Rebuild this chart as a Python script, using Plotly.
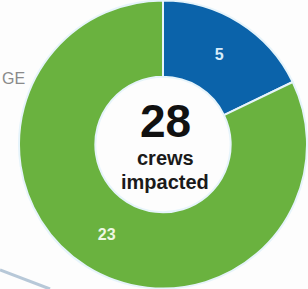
import plotly.graph_objects as go

categories = ["Blue crews", "Green crews"]
values = [5, 23]
slice_colors = ["#0b63aa", "#6ab23f"]
text_colors = ["#d8ecfa", "#eef7e4"]
total_label = "28"
sub_label_1 = "crews"
sub_label_2 = "impacted"
side_label = "GE"

W, H = 308, 289
FONT = "Liberation Sans, Arial, sans-serif"

fig = go.Figure(go.Pie(
    labels=categories,
    values=values,
    hole=0.47,
    sort=False,
    direction="clockwise",
    rotation=0,
    textinfo="value",
    texttemplate="<b>%{value}</b>",
    textposition="inside",
    insidetextorientation="horizontal",
    textfont=dict(family=FONT, size=16, color=text_colors),
    marker=dict(colors=slice_colors, line=dict(color="#e6f4fb", width=2)),
    domain=dict(x=[19 / W, 307 / W], y=[0, 1]),
    showlegend=False,
    hoverinfo="label+value",
))

fig.add_annotation(
    x=165 / W, y=1 - 121 / H, xref="paper", yref="paper",
    text="<b>" + total_label + "</b>", showarrow=False,
    font=dict(family=FONT, size=46, color="#111111"),
)
fig.add_annotation(
    x=165 / W, y=1 - 158 / H, xref="paper", yref="paper",
    text="<b>" + sub_label_1 + "</b>", showarrow=False,
    font=dict(family=FONT, size=20, color="#1a1a1a"),
)
fig.add_annotation(
    x=165 / W, y=1 - 182 / H, xref="paper", yref="paper",
    text="<b>" + sub_label_2 + "</b>", showarrow=False,
    font=dict(family=FONT, size=20, color="#1a1a1a"),
)
fig.add_annotation(
    x=0, y=1 - 68 / H, xref="paper", yref="paper", xanchor="left",
    text=side_label, showarrow=False,
    font=dict(family=FONT, size=16, color="#8a8a8a"),
)
fig.add_shape(
    type="line", xref="paper", yref="paper",
    x0=0, y0=1 - 270 / H, x1=50 / W, y1=0,
    line=dict(color="#b7c8d8", width=3),
)

fig.update_layout(
    width=W, height=H,
    margin=dict(l=0, r=0, t=0, b=0),
    paper_bgcolor="#fdfdfd",
    plot_bgcolor="#fdfdfd",
)

fig.write_html(
    "out.html",
    config={"displayModeBar": False},
    post_script="document.body.style.margin='0';document.body.style.padding='0';",
)
